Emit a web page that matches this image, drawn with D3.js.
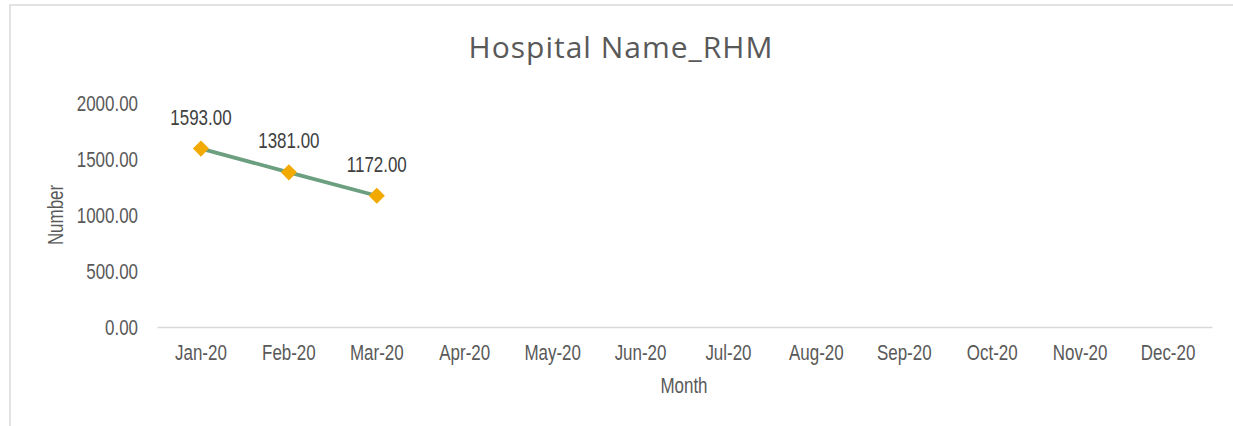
<!DOCTYPE html>
<html>
<head>
<meta charset="utf-8">
<script src="https://cdn.jsdelivr.net/npm/d3@7"></script>
<style>
  body { margin: 0; background: #fff; }
  svg { display: block; }
</style>
</head>
<body>
<div id="chart"></div>
<script>
const months = ["Jan-20", "Feb-20", "Mar-20", "Apr-20", "May-20", "Jun-20",
                "Jul-20", "Aug-20", "Sep-20", "Oct-20", "Nov-20", "Dec-20"];
const numbers = [1593, 1381, 1172];
const yTicks = [0, 500, 1000, 1500, 2000];

const width = 1233, height = 426;
const margin = {top: 103, right: 21, bottom: 99, left: 157};
const textColor = "#595959";
const squeeze = 0.77; // Liberation Sans squeezed to look like Arial Narrow

// style a text selection as a narrow font
function narrow(sel) {
    sel.attr("font-family", "'Liberation Sans', Arial, sans-serif")
        .attr("font-size", "22px");
}

const svg = d3.select("#chart").append("svg")
    .attr("width", width)
    .attr("height", height);

// chart frame (cropped on right and bottom)
svg.append("rect")
    .attr("x", 10)
    .attr("y", 5)
    .attr("width", width + 20)
    .attr("height", height + 20)
    .attr("fill", "#fff")
    .attr("stroke", "#d9d9d9")
    .attr("stroke-width", 1.5);

const x = d3.scaleBand()
    .domain(months)
    .range([margin.left, width - margin.right]);

const y = d3.scaleLinear()
    .domain([0, 2000])
    .range([height - margin.bottom, margin.top]);

// title
svg.append("text")
    .attr("x", 621)
    .attr("y", 58)
    .attr("text-anchor", "middle")
    .attr("font-family", "'Open Sans', sans-serif")
    .attr("font-size", "30px")
    .attr("letter-spacing", "1px")
    .attr("fill", textColor)
    .text("Hospital Name_RHM");

// x axis
const xAxis = svg.append("g")
    .attr("transform", `translate(0,${y(0)})`)
    .call(d3.axisBottom(x).tickSize(0).tickPadding(17));
xAxis.select(".domain").attr("stroke", "#d9d9d9").attr("stroke-width", 1.5);
xAxis.selectAll("text")
    .call(narrow)
    .attr("fill", textColor)
    .attr("transform", `scale(${squeeze},1)`);

// y axis (labels only)
const yAxis = svg.append("g")
    .attr("transform", `translate(${margin.left},0)`)
    .call(d3.axisLeft(y).tickValues(yTicks).tickSize(0).tickPadding(19)
        .tickFormat(d3.format(".2f")));
yAxis.select(".domain").remove();
yAxis.selectAll("text")
    .call(narrow)
    .attr("fill", textColor)
    .attr("x", -19 / squeeze)
    .attr("transform", `scale(${squeeze},1)`);

// axis titles
svg.append("text")
    .attr("transform", `translate(684,393) scale(${squeeze},1)`)
    .attr("text-anchor", "middle")
    .call(narrow)
    .attr("fill", textColor)
    .text("Month");

svg.append("text")
    .attr("transform", `translate(63,215) rotate(-90) scale(${squeeze},1)`)
    .attr("text-anchor", "middle")
    .call(narrow)
    .attr("fill", textColor)
    .text("Number");

// line + markers
const pts = numbers.map((v, i) => ({month: months[i], value: v}));
const cx = d => x(d.month) + x.bandwidth() / 2;

svg.append("path")
    .datum(pts)
    .attr("fill", "none")
    .attr("stroke", "#6b9f80")
    .attr("stroke-width", 3.75)
    .attr("d", d3.line().x(cx).y(d => y(d.value)));

svg.selectAll(".marker")
    .data(pts)
    .enter()
    .append("path")
    .attr("class", "marker")
    .attr("transform", d => `translate(${cx(d)},${y(d.value)}) rotate(45)`)
    .attr("d", d3.symbol().type(d3.symbolSquare).size(130))
    .attr("fill", "#f2a900");

svg.selectAll(".label")
    .data(pts)
    .enter()
    .append("text")
    .attr("class", "label")
    .attr("transform", d => `translate(${cx(d)},${y(d.value) - 24}) scale(${squeeze},1)`)
    .attr("text-anchor", "middle")
    .call(narrow)
    .attr("fill", "#404040")
    .text(d => d3.format(".2f")(d.value));
</script>
</body>
</html>
